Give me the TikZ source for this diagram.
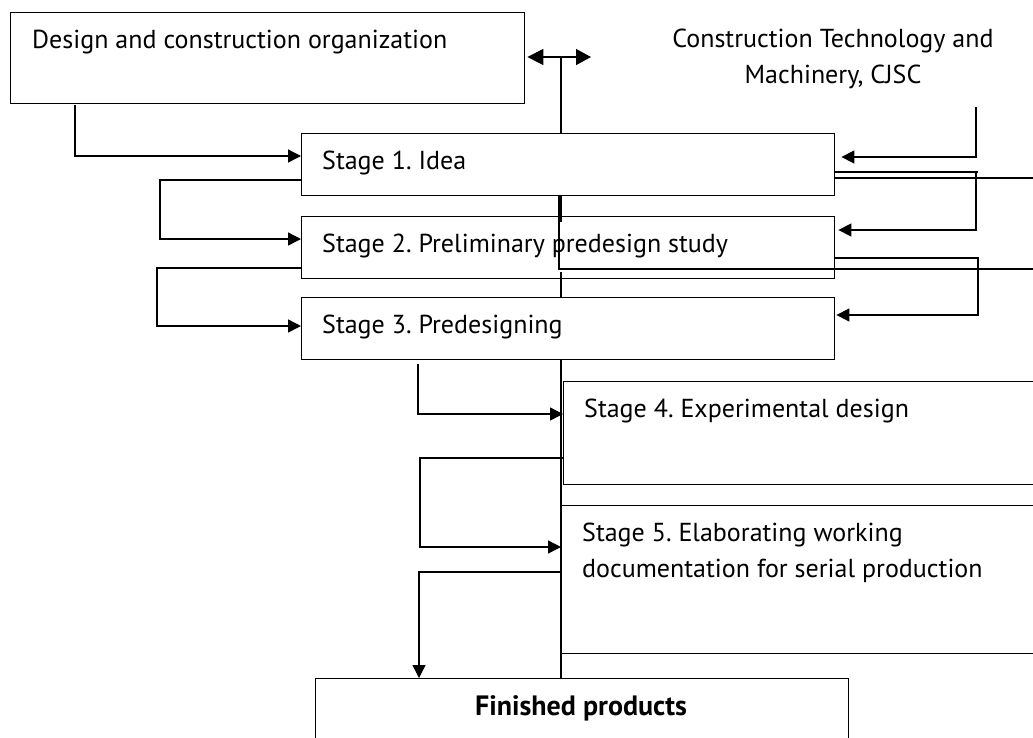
\documentclass[tikz,border=0pt]{standalone}
\usepackage{fontspec}
\setmainfont{PT Sans}
\usetikzlibrary{arrows.meta}
\frenchspacing
\begin{document}
\begin{tikzpicture}[x=1pt,y=-1pt,
  ln/.style={line width=1.4pt, black},
  box/.style={ln, draw, fill=white, rectangle, inner sep=0pt, anchor=north west},
  arr/.style={ln, -{Triangle[length=13pt,width=13pt]}},
  darr/.style={ln, {Triangle[length=16pt,width=16pt]}-{Triangle[length=15pt,width=16pt]}},
  lbl/.style={anchor=base west, inner sep=0pt, font=\fontsize{26}{36}\selectfont},
]
\useasboundingbox (0,0) rectangle (1033,737);
\clip (0,0) rectangle (1033,737);

% central line
\draw[ln] (561,57) -- (561,140);
\draw[ln] (561,190) -- (561,222);
\draw[ln] (561,272) -- (561,300);
\draw[ln] (561,355) -- (561,684);

% boxes
\node[box, minimum width=514pt, minimum height=91pt] (design) at (10,12) {};
\node[box, minimum width=533pt, minimum height=62pt] (s1) at (301,133) {};
\node[box, minimum width=533pt, minimum height=62pt, fill=none] (s2) at (301,216) {};
\node[box, minimum width=533pt, minimum height=62pt] (s3) at (301,297) {};
\node[box, minimum width=490pt, minimum height=103pt, fill=none] (s4) at (563,381) {};
\node[box, minimum width=490pt, minimum height=148pt, fill=none] (s5) at (561,505) {};
\node[box, minimum width=533pt, minimum height=90pt] (fin) at (315,678) {};
\coordinate (ct) at (976,107);
\coordinate (rt) at (1040,178);

% texts
\node[lbl] (tdesign) at (32,48) {Design and construction organization};
\node[lbl, anchor=base] (tct) at (833,47) {Construction Technology and};
\node[lbl, anchor=base] (tct2) at (833,83) {Machinery, CJSC};
\node[lbl] (t1) at (322,169) {Stage 1. Idea};
\node[lbl] (t2) at (322,252) {Stage 2. Preliminary predesign study};
\node[lbl] (t3) at (322,333) {Stage 3. Predesigning};
\node[lbl] (t4) at (584,417) {Stage 4. Experimental design};
\node[lbl] (t5) at (582,541) {Stage 5. Elaborating working};
\node[lbl] (t5b) at (582,577) {documentation for serial production};
\node[lbl, anchor=base, font=\fontsize{28}{36}\selectfont\bfseries] (tfin) at (581,715) {Finished products};

% double arrow at top
\draw[darr, shorten <=2pt] (design.east |- 0,57) -- (591,57);
\draw[ln] (561,57) -- (s1.north -| 561,0);

% left-side connectors
\draw[arr] (75,105) |- (s1.west |- 0,156);
\draw[arr] (s1.west |- 0,180) -- (160,180) -- (160,239) -- (s2.west |- 0,239);
\draw[arr] (s2.west |- 0,268) -- (157,268) -- (157,326) -- (s3.west |- 0,326);
\draw[arr] (418,364) |- (s4.west |- 0,414);
\draw[arr] (s4.west |- 561,458) -- (420,458) -- (420,547) -- (s5.west |- 0,547);
\draw[arr] (s5.west |- 0,572) -| (fin.north -| 419,0);

% right-side connectors
\draw[arr, shorten >=6pt] (ct) |- (s1.east |- 0,157);
\draw[ln] (s1.east |- 0,172) -- (978,172);
\draw[arr, shorten >=3pt] (976,172) |- (s2.east |- 0,230);
\draw[arr, shorten >=1pt] (s2.east |- 0,258) -| (978,315) -- (s3.east |- 0,315);

% lines of the partly hidden box
\draw[ln] (s1.east |- 0,178) -- (rt);
\draw[ln] (559,195) -- (559,269) -- (1040,269);
\end{tikzpicture}
\end{document}
